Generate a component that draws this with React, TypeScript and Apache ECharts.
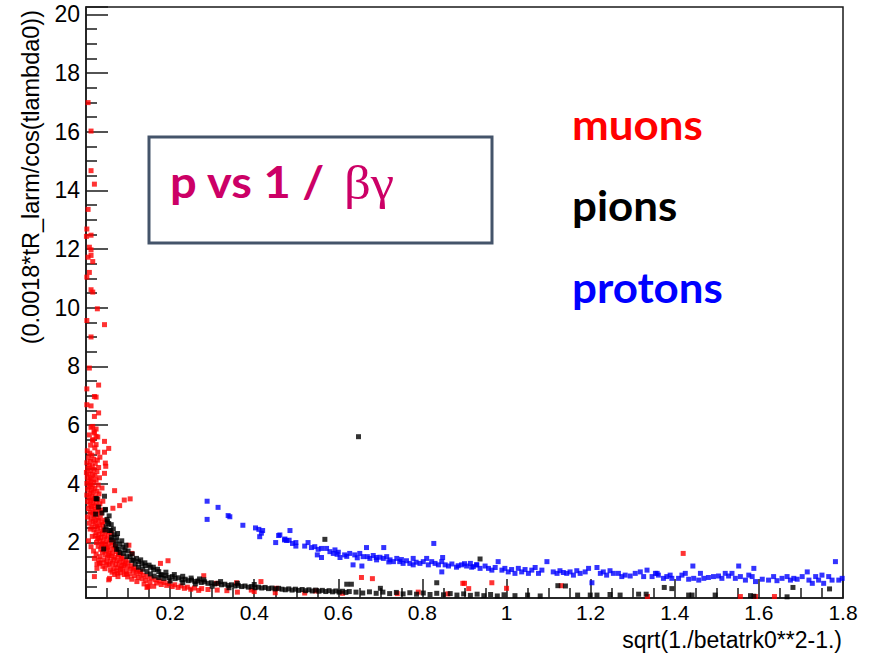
import { useEffect, useRef } from 'react';
import * as echarts from 'echarts';

type Pt = [number, number];

// muon candidates: [sqrt(1/beta^2-1), 0.0018*R/cos(lambda)]
const muonPoints: Pt[] = [
  [0.005, 16.99], [0.012, 16.02], [0.012, 14.67], [0.02, 14.21], [0.005, 13.35], [0.002, 12.68],
  [0.001, 12.43], [0.012, 12.47], [0.008, 12.06], [0.012, 11.97], [0.012, 11.78], [0.005, 11.72],
  [0.016, 11.57], [0.002, 11.04], [0.008, 11.2], [0.012, 10.61], [0.016, 10.53], [0.027, 9.96],
  [0.002, 9.56], [0.044, 9.42], [0.012, 9.0],
  [0.008, 7.94], [0.03, 7.36], [0.002, 7.23], [0.02, 6.97], [0.024, 6.95], [0.002, 6.69],
  [0.012, 6.65], [0.03, 6.41], [0.02, 6.29], [0.016, 5.95], [0.024, 5.86], [0.02, 5.73],
  [0.028, 5.59], [0.016, 5.5], [0.024, 5.33], [0.044, 5.44], [0.054, 5.2], [0.044, 5.07], [0.047, 4.59],
  [0.012, 5.92], [0.019, 5.78], [0.008, 5.66], [0.024, 5.61], [0.016, 5.47], [0.011, 5.31],
  [0.021, 5.22], [0.028, 5.07], [0.033, 4.9],
  [0.003, 5.12], [0.009, 5.04], [0.014, 4.97], [0.006, 4.88], [0.018, 4.83], [0.011, 4.76],
  [0.002, 4.71], [0.022, 4.69], [0.008, 4.62], [0.015, 4.58], [0.004, 4.52], [0.019, 4.49],
  [0.012, 4.44], [0.026, 4.41], [0.001, 4.38], [0.007, 4.33], [0.016, 4.31], [0.021, 4.27],
  [0.003, 4.22], [0.01, 4.19], [0.013, 4.14], [0.024, 4.12], [0.006, 4.08], [0.018, 4.05],
  [0.002, 4.01], [0.011, 3.97], [0.029, 3.95], [0.015, 3.92], [0.008, 3.88], [0.021, 3.84],
  [0.004, 3.81], [0.013, 3.77], [0.026, 3.74], [0.017, 3.71], [0.009, 3.67], [0.031, 3.65],
  [0.002, 3.61], [0.014, 3.58], [0.022, 3.55], [0.007, 3.52], [0.019, 3.48], [0.028, 3.46],
  [0.011, 3.42], [0.004, 3.39], [0.016, 3.36], [0.024, 3.33], [0.033, 3.31], [0.009, 3.27],
  [0.02, 3.24], [0.013, 3.21], [0.027, 3.18], [0.006, 3.15], [0.017, 3.11], [0.031, 3.08],
  [0.022, 3.05], [0.01, 3.02], [0.036, 2.99], [0.015, 2.96], [0.026, 2.93], [0.019, 2.89],
  [0.004, 2.86], [0.034, 2.83], [0.012, 2.8], [0.023, 2.77], [0.029, 2.74], [0.017, 2.71],
  [0.038, 2.68], [0.008, 2.65], [0.021, 2.62], [0.032, 2.58], [0.026, 2.55], [0.014, 2.52],
  [0.04, 2.6], [0.045, 2.75], [0.035, 3.1], [0.04, 3.4], [0.038, 3.85], [0.032, 4.2],
  [0.03, 4.55], [0.027, 4.8],
  [0.028, 2.48], [0.041, 2.45], [0.019, 2.42], [0.035, 2.39], [0.047, 2.36], [0.024, 2.33],
  [0.039, 2.3], [0.031, 2.27], [0.052, 2.25], [0.022, 2.22], [0.044, 2.19], [0.036, 2.16],
  [0.027, 2.13], [0.049, 2.11], [0.058, 2.08], [0.033, 2.05], [0.041, 2.02], [0.025, 1.99],
  [0.054, 1.97], [0.046, 1.94], [0.037, 1.91], [0.062, 1.89], [0.029, 1.86], [0.051, 1.84],
  [0.043, 1.81], [0.067, 1.78], [0.035, 1.76], [0.057, 1.73], [0.048, 1.71], [0.072, 1.68],
  [0.039, 1.66], [0.063, 1.63], [0.054, 1.61], [0.045, 1.58], [0.077, 1.56], [0.06, 1.53],
  [0.033, 1.51], [0.069, 1.49], [0.051, 1.47], [0.083, 1.44], [0.066, 1.42], [0.042, 1.4],
  [0.074, 1.38], [0.058, 1.36], [0.088, 1.34], [0.048, 1.32], [0.079, 1.3], [0.063, 1.28],
  [0.093, 1.26], [0.071, 1.24], [0.055, 1.22], [0.085, 1.2],
  [0.01, 2.45], [0.015, 2.2], [0.006, 2.05], [0.012, 1.85], [0.018, 1.7], [0.024, 1.6],
  [0.03, 1.4], [0.036, 1.3], [0.04, 1.18], [0.045, 1.1], [0.05, 1.25], [0.058, 1.05],
  [0.062, 0.98], [0.068, 0.9], [0.075, 0.95], [0.082, 1.1], [0.09, 1.22], [0.1, 1.3],
  [0.108, 1.2], [0.115, 1.12], [0.122, 1.05], [0.13, 1.0], [0.06, 2.3], [0.065, 2.0],
  [0.07, 1.85], [0.078, 1.6], [0.085, 1.5], [0.095, 1.4], [0.055, 1.55], [0.04, 1.95],
  [0.03, 2.15], [0.05, 1.8],
  [0.098, 1.16], [0.076, 1.14], [0.066, 1.11], [0.105, 1.09], [0.087, 1.07], [0.112, 1.04],
  [0.072, 1.02], [0.095, 1.0], [0.119, 0.98], [0.082, 0.96], [0.128, 0.94], [0.104, 0.92],
  [0.091, 0.9], [0.136, 0.88], [0.115, 0.86], [0.145, 0.84], [0.099, 0.82], [0.124, 0.8],
  [0.155, 0.78], [0.133, 0.76], [0.109, 0.74], [0.164, 0.72], [0.142, 0.7], [0.175, 0.68],
  [0.121, 0.66], [0.152, 0.65], [0.186, 0.63], [0.168, 0.61], [0.198, 0.59], [0.138, 0.58],
  [0.179, 0.56], [0.211, 0.55], [0.192, 0.53], [0.226, 0.51], [0.161, 0.5], [0.205, 0.49],
  [0.241, 0.47], [0.219, 0.46], [0.258, 0.44], [0.234, 0.43], [0.275, 0.42], [0.249, 0.4],
  [0.29, 0.39], [0.312, 0.37], [0.268, 0.36], [0.335, 0.35],
  [0.068, 3.76], [0.091, 3.44], [0.105, 3.48], [0.08, 3.25], [0.064, 3.16], [0.044, 4.35],
  [0.046, 4.7], [0.102, 1.9], [0.109, 1.62], [0.177, 1.28], [0.195, 1.37], [0.28, 0.86],
  [0.416, 0.66], [0.15, 0.5], [0.145, 0.46], [0.096, 0.92], [0.02, 1.45], [0.02, 0.83],
  [0.032, 1.28], [0.056, 0.77], [0.076, 0.83], [0.147, 0.49], [0.054, 0.72], [0.026, 1.11],
  [0.026, 1.26], [0.31, 0.6], [0.358, 0.62], [0.393, 0.37], [0.453, 0.43],
  [0.655, 0.8], [0.681, 0.76], [0.896, 0.6], [0.9, 0.6], [0.91, 0.42], [0.965, 0.62],
  [1.0, 0.43], [1.13, 0.52], [1.42, 1.62], [1.556, 0.15], [1.592, 0.15], [1.637, 0.15],
  [1.335, 0.15], [0.546, 0.34], [0.36, 0.3], [0.4, 0.32], [0.45, 0.28], [0.52, 0.27],
  [0.61, 0.26], [0.74, 0.25], [0.79, 0.3], [0.86, 0.24],
];

// pion candidates
const pionPoints: Pt[] = [
  [0.026, 3.48], [0.044, 3.57], [0.023, 2.96], [0.046, 3.12], [0.05, 2.78], [0.054, 2.64],
  [0.048, 2.53], [0.059, 2.4], [0.067, 2.26], [0.061, 2.17], [0.073, 2.17], [0.072, 2.05],
  [0.081, 1.94], [0.088, 1.83], [0.093, 1.74], [0.077, 1.77], [0.042, 1.77], [0.105, 1.51],
  [0.113, 1.4], [0.125, 1.34], [0.133, 1.26], [0.141, 1.2], [0.153, 1.15], [0.161, 1.06],
  [0.173, 1.0], [0.18, 0.89],
  [0.051, 2.7], [0.045, 2.42], [0.056, 2.4], [0.061, 2.08], [0.07, 1.91], [0.073, 1.76],
  [0.081, 1.65], [0.089, 1.62], [0.097, 1.51], [0.109, 1.38], [0.117, 1.26], [0.125, 1.15],
  [0.135, 1.08], [0.145, 1.0], [0.153, 0.92], [0.162, 0.85], [0.173, 0.8], [0.178, 0.89],
  [0.185, 0.77], [0.024, 3.49], [0.046, 3.1],
  [0.03, 3.2], [0.038, 3.0], [0.055, 2.9], [0.06, 2.6], [0.065, 2.45], [0.075, 2.3],
  [0.085, 2.05], [0.095, 1.9], [0.1, 1.7], [0.11, 1.6], [0.12, 1.45], [0.13, 1.4],
  [0.14, 1.3], [0.15, 1.22], [0.16, 1.15], [0.17, 1.08], [0.19, 0.98], [0.21, 0.9],
  [0.23, 0.84], [0.27, 0.75],
  [0.19, 0.86], [0.197, 0.8], [0.205, 0.83], [0.212, 0.76], [0.22, 0.79], [0.228, 0.72],
  [0.236, 0.74], [0.243, 0.69], [0.251, 0.71], [0.259, 0.66], [0.266, 0.68], [0.274, 0.63],
  [0.282, 0.65], [0.29, 0.6], [0.298, 0.62], [0.306, 0.58], [0.314, 0.6], [0.322, 0.55],
  [0.33, 0.57], [0.338, 0.53], [0.346, 0.55], [0.354, 0.51], [0.362, 0.53], [0.37, 0.49],
  [0.378, 0.51], [0.386, 0.47], [0.394, 0.49], [0.402, 0.45], [0.41, 0.47], [0.418, 0.44],
  [0.426, 0.46], [0.434, 0.42], [0.442, 0.44], [0.45, 0.41], [0.458, 0.43], [0.466, 0.4],
  [0.2, 0.68], [0.23, 0.62], [0.26, 0.58], [0.3, 0.5], [0.34, 0.45], [0.25, 0.78],
  [0.28, 0.72], [0.32, 0.66], [0.36, 0.6], [0.4, 0.56],
  [0.474, 0.38], [0.482, 0.41], [0.49, 0.37], [0.498, 0.4], [0.506, 0.36], [0.514, 0.39],
  [0.522, 0.35], [0.53, 0.38], [0.538, 0.34], [0.546, 0.37], [0.554, 0.33], [0.562, 0.36],
  [0.57, 0.32], [0.578, 0.35], [0.586, 0.31], [0.594, 0.34], [0.602, 0.3], [0.61, 0.33],
  [0.62, 0.57], [0.631, 0.57], [0.618, 0.29], [0.626, 0.32], [0.642, 0.3], [0.658, 0.27],
  [0.674, 0.31], [0.69, 0.26], [0.7, 0.43], [0.706, 0.3], [0.722, 0.25], [0.738, 0.29],
  [0.754, 0.24], [0.77, 0.28], [0.786, 0.23], [0.802, 0.27], [0.818, 0.22], [0.834, 0.62],
  [0.834, 0.26], [0.85, 0.21], [0.866, 0.25], [0.882, 0.2], [0.898, 0.24], [0.914, 0.19],
  [0.93, 0.23], [0.946, 0.18], [0.962, 0.22], [0.978, 0.17], [0.994, 0.21],
  [1.02, 0.18], [1.05, 0.2], [1.08, 0.17], [1.122, 0.52], [1.14, 0.51], [1.169, 0.2],
  [1.199, 0.2], [1.215, 0.2], [1.246, 0.22], [1.27, 0.2], [1.314, 0.23], [1.332, 0.23],
  [1.375, 0.46], [1.393, 0.42], [1.433, 0.2], [1.441, 0.2], [1.496, 0.2], [1.58, 0.18],
  [1.588, 0.16], [1.667, 0.14], [1.681, 0.46], [1.768, 0.41],
  [0.648, 5.6], [0.568, 2.1], [0.937, 1.43],
];

// proton candidates
const protonPoints: Pt[] = [
  [0.288, 3.4], [0.288, 2.78], [0.314, 3.19], [0.338, 2.91], [0.342, 2.87], [0.373, 2.58],
  [0.403, 2.49], [0.411, 2.44], [0.42, 2.4], [0.417, 2.31], [0.413, 2.19], [0.451, 1.99],
  [0.458, 2.23], [0.472, 2.08], [0.477, 2.06], [0.485, 2.4], [0.461, 2.25], [0.473, 2.11],
  [0.483, 2.07], [0.491, 1.96], [0.499, 1.99], [0.499, 1.87], [0.52, 1.87], [0.528, 1.99],
  [0.536, 1.82], [0.544, 1.85], [0.552, 1.76], [0.56, 1.79], [0.55, 1.57], [0.56, 1.48],
  [0.572, 1.79], [0.58, 1.68], [0.588, 1.62], [0.592, 1.74], [0.597, 1.59], [0.604, 1.48],
  [0.615, 1.57], [0.627, 1.62], [0.639, 1.57], [0.651, 1.62], [0.659, 1.51], [0.669, 1.51],
  [0.675, 1.45], [0.683, 1.55], [0.691, 1.4], [0.699, 1.49], [0.635, 1.23], [0.656, 1.19],
  [0.667, 1.82], [0.708, 1.82], [0.707, 1.45], [0.715, 1.51], [0.723, 1.4], [0.731, 1.34],
  [0.739, 1.45], [0.746, 1.34], [0.754, 1.28], [0.762, 1.37], [0.77, 1.28], [0.778, 1.45],
  [0.778, 1.23], [0.794, 1.28], [0.802, 1.34], [0.81, 1.45], [0.814, 1.23], [0.822, 1.34],
  [0.83, 1.28], [0.838, 1.23], [0.846, 1.34], [0.854, 1.23], [0.862, 1.19], [0.827, 1.96],
  [0.848, 1.48], [0.846, 0.99], [0.881, 1.15], [0.893, 1.23], [0.905, 1.19], [0.917, 1.15],
  [0.929, 1.23], [0.6, 1.66], [0.62, 1.52], [0.645, 1.47], [0.69, 1.48], [0.72, 1.33],
  [0.75, 1.41], [0.785, 1.32], [0.87, 1.26], [0.885, 1.2], [0.9, 1.27],
  [0.914, 1.28], [0.921, 1.17], [0.929, 1.23], [0.937, 1.11], [0.949, 1.19], [0.957, 1.11],
  [0.965, 1.05], [0.973, 1.14], [0.98, 1.34], [0.989, 1.05], [0.996, 1.11], [1.004, 0.99],
  [1.012, 1.07], [1.02, 0.94], [1.028, 1.11], [1.036, 0.99], [1.044, 1.07], [1.052, 0.94],
  [1.06, 1.05], [1.068, 1.14], [1.076, 0.94], [1.084, 1.05], [1.096, 1.34], [1.111, 0.99],
  [1.12, 0.94], [1.127, 1.03], [1.135, 0.97], [1.143, 0.94], [1.151, 0.99], [1.159, 0.88],
  [1.167, 1.03], [1.175, 0.94], [1.187, 0.99], [1.195, 1.11], [1.203, 0.62], [1.215, 1.14],
  [1.223, 0.94], [1.23, 0.99], [1.238, 0.88], [1.246, 1.03], [1.254, 0.94], [1.266, 0.94],
  [1.274, 0.83], [1.282, 0.88], [1.294, 0.85], [1.306, 0.94], [1.318, 0.99], [1.326, 0.83],
  [1.334, 1.05], [1.346, 0.83], [1.358, 0.94],
  [1.354, 0.94], [1.361, 0.88], [1.373, 0.77], [1.381, 0.83], [1.389, 0.88], [1.393, 0.77],
  [1.409, 0.77], [1.417, 0.88], [1.425, 0.94], [1.433, 0.74], [1.443, 1.19], [1.445, 0.77],
  [1.457, 0.71], [1.461, 0.94], [1.469, 0.77], [1.48, 0.8], [1.492, 0.83], [1.504, 0.85],
  [1.512, 0.77], [1.52, 0.94], [1.528, 0.85], [1.536, 0.94], [1.544, 0.77], [1.552, 1.19],
  [1.556, 0.83], [1.568, 0.71], [1.576, 0.88], [1.584, 0.83], [1.588, 1.11], [1.592, 0.66],
  [1.608, 0.74], [1.623, 0.71], [1.635, 0.83], [1.643, 0.69], [1.655, 0.77], [1.667, 0.83],
  [1.675, 0.71], [1.683, 0.77], [1.691, 0.74], [1.703, 0.83], [1.715, 0.99], [1.719, 0.71],
  [1.727, 0.6], [1.735, 0.83], [1.742, 0.71], [1.75, 0.88], [1.754, 0.6], [1.766, 0.83],
  [1.774, 0.71], [1.782, 1.34], [1.79, 0.71], [1.798, 0.77],
];

const speciesNames = ['muons', 'pions', 'protons'];
const speciesColors = ['#ff0000', '#000000', '#0000ff'];
const xTitle = 'sqrt(1./betatrk0**2-1.)';
const yTitle = '(0.0018*tR_larm/cos(tlambda0))';
const boxMain = 'p vs 1 / ';
const boxGreek = 'βγ';

const frameColor = '#1a1a1a';
const axisFont = 'Liberation Sans, Arial, Helvetica, sans-serif';
const noteFont = 'Lato, "Open Sans", sans-serif';

export default function App() {
  const ref = useRef<HTMLDivElement>(null);

  useEffect(() => {
    if (!ref.current) return;
    const chart = echarts.init(ref.current, undefined, { renderer: 'svg' });

    const tickStyle = { color: frameColor, width: 1.5 };

    const series = [muonPoints, pionPoints, protonPoints].map((pts, i) => ({
      name: speciesNames[i],
      type: 'scatter',
      symbol: 'rect',
      symbolSize: 5,
      data: pts,
      itemStyle: { color: speciesColors[i] },
      clip: true,
      z: 2 + i,
    }));

    const legendY = [123.7, 205, 286.7];

    chart.setOption({
      animation: false,
      backgroundColor: '#ffffff',
      grid: {
        left: 86,
        right: 39,
        top: 7,
        bottom: 56,
        show: true,
        borderColor: frameColor,
        borderWidth: 1.5,
        backgroundColor: 'transparent',
      },
      xAxis: {
        type: 'value',
        min: 0,
        max: 1.8,
        interval: 0.2,
        axisLine: { show: true, lineStyle: tickStyle },
        axisTick: { show: true, inside: true, length: 19, lineStyle: tickStyle },
        minorTick: { show: true, splitNumber: 4, length: 10, lineStyle: tickStyle },
        splitLine: { show: false },
        minorSplitLine: { show: false },
        axisLabel: {
          fontFamily: axisFont,
          fontSize: 21,
          lineHeight: 21,
          color: '#000',
          margin: 4,
          formatter: (v: number) => (v === 0 ? '' : String(Math.round(v * 10) / 10)),
        },
      },
      yAxis: {
        type: 'value',
        min: 0.1,
        max: 20.25,
        splitNumber: 10,
        axisLine: { show: true, lineStyle: tickStyle },
        axisTick: { show: true, inside: true, length: 22, lineStyle: tickStyle },
        minorTick: { show: true, splitNumber: 4, length: 11, lineStyle: tickStyle },
        splitLine: { show: false },
        minorSplitLine: { show: false },
        axisLabel: {
          fontFamily: axisFont,
          fontSize: 23,
          color: '#000',
          margin: 6,
          formatter: (v: number) => {
            const half = v / 2;
            return v > 1 && Math.abs(half - Math.round(half)) < 1e-6 ? String(Math.round(v)) : '';
          },
        },
      },
      series,
      graphic: [
        {
          type: 'rect',
          z: 20,
          shape: { x: 149, y: 137, width: 343, height: 106 },
          style: { fill: 'none', stroke: '#44546a', lineWidth: 3 },
        },
        {
          type: 'text',
          z: 21,
          x: 170,
          y: 181.3,
          scaleX: 1.07,
          style: {
            text: boxMain,
            fill: '#cc0066',
            font: `bold 44px ${noteFont}`,
            align: 'left',
            verticalAlign: 'middle',
          },
        },
        {
          type: 'text',
          z: 21,
          x: 344,
          y: 182.8,
          scaleX: 1.1,
          style: {
            text: boxGreek,
            fill: '#cc0066',
            font: '48px "Liberation Serif", "DejaVu Serif", serif',
            align: 'left',
            verticalAlign: 'middle',
          },
        },
        ...speciesNames.map((name, i) => ({
          type: 'text',
          z: 21,
          x: 572,
          y: legendY[i],
          scaleX: 1.045,
          style: {
            text: name,
            fill: speciesColors[i],
            font: `bold 42px ${noteFont}`,
            align: 'left',
            verticalAlign: 'middle',
          },
        })),
        {
          type: 'text',
          z: 21,
          x: 842,
          y: 640,
          style: {
            text: xTitle,
            fill: '#000',
            font: `23px ${axisFont}`,
            lineHeight: 23,
            align: 'right',
            verticalAlign: 'middle',
          },
        },
        {
          type: 'text',
          z: 21,
          x: 30.5,
          y: 10,
          rotation: Math.PI / 2,
          style: {
            text: yTitle,
            fill: '#000',
            font: `23.5px ${axisFont}`,
            align: 'right',
            verticalAlign: 'middle',
          },
        },
      ],
    });

    return () => chart.dispose();
  }, []);

  return (
    <div
      ref={ref}
      style={{ position: 'absolute', left: 0, top: 0, width: 882, height: 654 }}
    />
  );
}
